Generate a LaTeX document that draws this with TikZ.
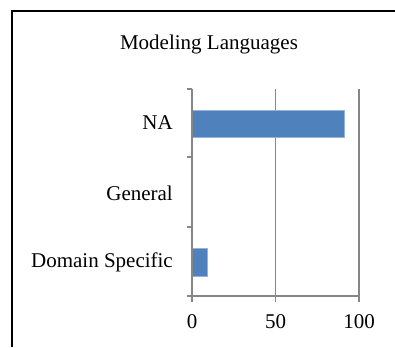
\documentclass[tikz,border=0pt]{standalone}
\usepackage{fontspec}
\setmainfont{Liberation Serif}
\usepackage{tikz}
\usetikzlibrary{positioning}
\definecolor{barblue}{HTML}{4F81BD}
\definecolor{gridgray}{HTML}{868686}
\tikzset{
  grid line/.style={gridgray,line width=1.4pt},
  bar/.style={fill=barblue,draw=barblue!60!white,line width=0.5pt},
  every node/.style={font=\fontsize{21}{25}\selectfont,inner sep=0pt}
}

\begin{document}
\begin{tikzpicture}[x=1pt,y=-1pt,line cap=butt]
  \useasboundingbox (0,0) rectangle (395,347);

  % Frame
  \draw[black,line width=1.3pt] (12,347) -- (12,11) -- (395,11);

  % Title
  \node (title) at (209,44) {Modeling Languages};

  % Plot window
  \def\xzero{192} \def\xscale{1.67}
  \def\ytop{89} \def\ybot{296}

  % Vertical grid lines and x ticks
  \foreach \v in {50,100}
    \draw[grid line] ({\xzero+\xscale*\v},\ytop) -- ({\xzero+\xscale*\v},{\ybot+6});
  \foreach \v in {0,50,100}
    \node (xt\v) at ({\xzero+\xscale*\v},322) {\v};

  % Bars
  \draw[bar] (\xzero,110) rectangle ({\xzero+\xscale*91},137);
  \draw[bar] (\xzero,248) rectangle ({\xzero+\xscale*9},276);

  % Axes
  \draw[grid line] (\xzero,\ytop) -- (\xzero,{\ybot+6});
  \draw[grid line] (187,\ybot) -- ({\xzero+\xscale*100},\ybot);
  \foreach \y in {89,157,227}
    \draw[grid line] (187,\y) -- (\xzero,\y);

  % Category labels
  \node[anchor=east] (na)  at (173,123) {NA};
  \node[anchor=east] (gen) at (173,193) {General};
  \node[anchor=east] (dom) at (173,262) {Domain Specific};
\end{tikzpicture}
\end{document}
